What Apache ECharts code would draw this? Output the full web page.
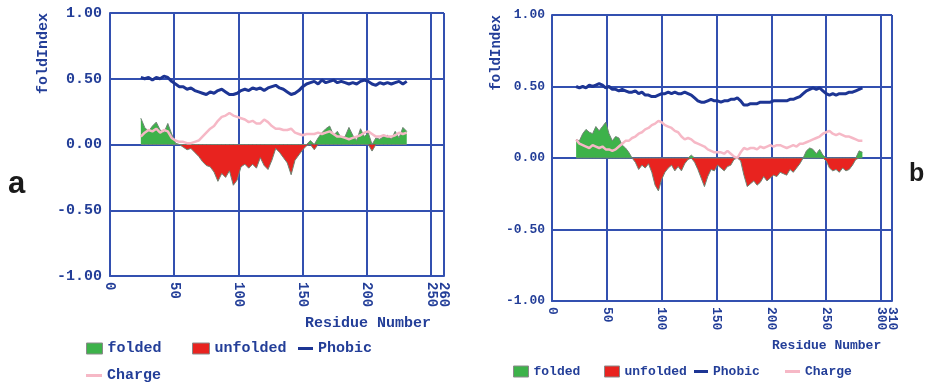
<!DOCTYPE html>
<html>
<head>
<meta charset="utf-8">
<style>
  html, body { margin: 0; padding: 0; background: #fff; }
  #chart { width: 927px; height: 388px; }
</style>
<script src="https://cdn.jsdelivr.net/npm/echarts@6/dist/echarts.min.js"></script>
</head>
<body>
<div id="chart"></div>
<script>
// panel a: residues 24..231, every 3rd residue
const A_START = 24;
const A_STEP = 3;
const A_MAX = 260;
const foldA = [
  0.20, 0.13, 0.10, 0.14, 0.17, 0.11, 0.09, 0.16, 0.08, 0.01,
  0.00, -0.02, -0.04, -0.03, -0.06, -0.09, -0.13, -0.16, -0.17, -0.21,
  -0.28, -0.22, -0.25, -0.20, -0.31, -0.27, -0.17, -0.15, -0.18, -0.15,
  -0.18, -0.10, -0.16, -0.19, -0.12, -0.03, -0.06, -0.10, -0.14, -0.23,
  -0.12, -0.08, -0.04, -0.01, 0.03, -0.04, 0.05, 0.09, 0.12, 0.14,
  0.07, 0.10, 0.05, 0.06, 0.13, 0.07, 0.03, 0.12, 0.06, 0.09,
  -0.05, 0.05, 0.04, 0.06, 0.07, 0.04, 0.10, 0.05, 0.13, 0.10
];
const phobicA = [
  0.51, 0.50, 0.51, 0.49, 0.51, 0.50, 0.52, 0.51, 0.48, 0.46,
  0.44, 0.44, 0.42, 0.43, 0.41, 0.40, 0.39, 0.38, 0.40, 0.39,
  0.41, 0.42, 0.40, 0.38, 0.38, 0.39, 0.41, 0.42, 0.41, 0.43,
  0.42, 0.43, 0.41, 0.43, 0.44, 0.45, 0.43, 0.42, 0.40, 0.38,
  0.39, 0.41, 0.44, 0.46, 0.47, 0.48, 0.46, 0.49, 0.47, 0.48,
  0.49, 0.47, 0.48, 0.47, 0.46, 0.47, 0.46, 0.48, 0.49, 0.48,
  0.46, 0.45, 0.47, 0.46, 0.47, 0.46, 0.47, 0.48, 0.46, 0.48
];
const chargeA = [
  0.06, 0.09, 0.11, 0.10, 0.12, 0.09, 0.11, 0.10, 0.05, 0.03,
  0.02, 0.02, 0.01, 0.01, 0.02, 0.03, 0.06, 0.09, 0.12, 0.14,
  0.18, 0.21, 0.22, 0.24, 0.22, 0.21, 0.20, 0.19, 0.17, 0.18,
  0.16, 0.16, 0.19, 0.17, 0.14, 0.12, 0.12, 0.11, 0.11, 0.12,
  0.09, 0.08, 0.07, 0.08, 0.08, 0.08, 0.09, 0.08, 0.09, 0.10,
  0.08, 0.06, 0.06, 0.05, 0.04, 0.05, 0.06, 0.07, 0.09, 0.10,
  0.08, 0.06, 0.06, 0.07, 0.06, 0.06, 0.07, 0.09, 0.08, 0.09
];

// panel b: residues 22..283, every 3rd residue
const B_START = 22;
const B_STEP = 3;
const B_MAX = 310;
const foldB = [
  0.13, 0.12, 0.17, 0.20, 0.18, 0.17, 0.22, 0.19, 0.22, 0.25,
  0.17, 0.12, 0.15, 0.14, 0.09, 0.07, 0.04, 0.00, -0.03, -0.08,
  -0.05, -0.07, -0.04, -0.10, -0.19, -0.23, -0.15, -0.10, -0.07, -0.05,
  -0.09, -0.06, -0.09, -0.04, -0.01, 0.02, -0.03, -0.08, -0.14, -0.20,
  -0.13, -0.08, -0.09, -0.05, -0.07, -0.09, -0.06, -0.05, -0.01, 0.00,
  -0.02, -0.12, -0.20, -0.18, -0.16, -0.19, -0.17, -0.13, -0.16, -0.14,
  -0.12, -0.13, -0.10, -0.11, -0.12, -0.08, -0.10, -0.07, -0.04, 0.00,
  0.05, 0.07, 0.06, 0.03, 0.06, 0.02, -0.02, -0.07, -0.09, -0.08,
  -0.10, -0.07, -0.09, -0.08, -0.05, -0.01, 0.05, 0.04
];
const phobicB = [
  0.50, 0.49, 0.50, 0.49, 0.51, 0.50, 0.51, 0.52, 0.51, 0.49,
  0.50, 0.48, 0.48, 0.47, 0.48, 0.47, 0.46, 0.46, 0.47, 0.45,
  0.46, 0.44, 0.44, 0.43, 0.43, 0.44, 0.45, 0.45, 0.46, 0.45,
  0.46, 0.45, 0.45, 0.46, 0.45, 0.44, 0.42, 0.40, 0.39, 0.39,
  0.40, 0.41, 0.40, 0.40, 0.39, 0.40, 0.40, 0.41, 0.41, 0.42,
  0.40, 0.37, 0.37, 0.38, 0.38, 0.38, 0.39, 0.39, 0.39, 0.39,
  0.40, 0.40, 0.40, 0.40, 0.40, 0.41, 0.41, 0.42, 0.43, 0.45,
  0.47, 0.48, 0.49, 0.48, 0.49, 0.47, 0.45, 0.44, 0.45, 0.44,
  0.45, 0.45, 0.45, 0.46, 0.46, 0.47, 0.48, 0.49
];
const chargeB = [
  0.13, 0.10, 0.09, 0.08, 0.07, 0.09, 0.08, 0.07, 0.08, 0.06,
  0.06, 0.05, 0.06, 0.08, 0.10, 0.12, 0.12, 0.14, 0.15, 0.17,
  0.18, 0.20, 0.21, 0.23, 0.24, 0.26, 0.25, 0.23, 0.22, 0.21,
  0.19, 0.18, 0.15, 0.13, 0.14, 0.13, 0.11, 0.10, 0.09, 0.08,
  0.06, 0.05, 0.04, 0.04, 0.04, 0.03, 0.05, 0.03, 0.01, 0.00,
  0.04, 0.07, 0.06, 0.07, 0.07, 0.06, 0.08, 0.07, 0.08, 0.09,
  0.08, 0.09, 0.09, 0.08, 0.07, 0.08, 0.09, 0.08, 0.10, 0.10,
  0.11, 0.12, 0.13, 0.14, 0.15, 0.17, 0.18, 0.19, 0.17, 0.16,
  0.17, 0.16, 0.15, 0.15, 0.14, 0.13, 0.12, 0.12
];

const yTicks = [-1, -0.5, 0, 0.5, 1];

const MONO = '"Liberation Mono", "DejaVu Sans Mono", monospace';
const TEXT = '#233e98';
const GRIDC = '#3350b0';
const GREEN = '#3db24a';
const RED = '#e8231f';
const NAVY = '#1d3594';
const PINK = '#f6b8c6';

function pairs(start, step, vals, fn) {
  return vals.map((v, i) => [start + i * step, fn ? fn(v) : v]);
}

function xAxisOf(grid, max, size) {
  return {
    gridIndex: grid, type: 'value', position: 'bottom', min: 0, max: max, interval: 50,
    axisLine: { show: true, onZero: false, lineStyle: { color: GRIDC, width: 2 } },
    axisTick: { show: false },
    splitLine: { show: true, lineStyle: { color: GRIDC, width: 2 } },
    axisLabel: { rotate: -90, margin: 6, color: TEXT, fontFamily: MONO, fontWeight: 'bold', fontSize: size,
      showMinLabel: true, showMaxLabel: false }
  };
}

// second axis on the same grid that carries only the end label (it sits too close to the last tick)
function xEndAxisOf(grid, max, size) {
  return {
    gridIndex: grid, type: 'value', position: 'bottom', min: 0, max: max, interval: 50,
    axisLine: { show: false, onZero: false }, axisTick: { show: false }, splitLine: { show: false },
    axisLabel: { rotate: -90, margin: 6, color: TEXT, fontFamily: MONO, fontWeight: 'bold', fontSize: size,
      showMaxLabel: true, formatter: v => (v === max ? String(v) : '') }
  };
}

function yAxisOf(grid, size, margin) {
  return {
    gridIndex: grid, type: 'value', min: yTicks[0], max: yTicks[yTicks.length - 1], interval: 0.5,
    axisLine: { show: true, lineStyle: { color: GRIDC, width: 2 } },
    axisTick: { show: false },
    splitLine: { show: true, lineStyle: { color: GRIDC, width: 2 } },
    axisLabel: { margin: margin, color: TEXT, fontFamily: MONO, fontWeight: 'bold', fontSize: size,
      formatter: v => v.toFixed(2) }
  };
}

function seriesOf(idx, start, step, fold, phobic, charge) {
  const area = (name, color, fn) => ({
    name, type: 'line', xAxisIndex: idx, yAxisIndex: idx,
    data: pairs(start, step, fold, fn), symbol: 'none', color,
    lineStyle: { width: 1, color: '#6f8474' },
    areaStyle: { color, opacity: 1, origin: 0 }
  });
  return [
    area('folded', GREEN, v => Math.max(v, 0)),
    area('unfolded', RED, v => Math.min(v, 0)),
    { name: 'Charge', type: 'line', xAxisIndex: idx, yAxisIndex: idx, data: pairs(start, step, charge),
      symbol: 'none', color: PINK, lineStyle: { width: 2.5, color: PINK } },
    { name: 'Phobic', type: 'line', xAxisIndex: idx, yAxisIndex: idx, data: pairs(start, step, phobic),
      symbol: 'none', color: NAVY, lineStyle: { width: 3, color: NAVY } }
  ];
}

function legendItem(name, left, top, size, color, isBox, w) {
  return {
    data: [name], left, top, padding: 0, selectedMode: false,
    icon: 'rect', itemWidth: w, itemHeight: isBox ? 11 : 3,
    itemStyle: isBox ? { color, borderColor: '#8a8a8a', borderWidth: 1 } : { color, borderWidth: 0 },
    textStyle: { color: TEXT, fontFamily: MONO, fontWeight: 'bold', fontSize: size }
  };
}

function label(text, x, y, size, opts) {
  return Object.assign({ type: 'text', x, y, style: {
    text, fill: TEXT, font: 'bold ' + size + 'px ' + MONO, align: 'left', verticalAlign: 'middle'
  } }, opts || {});
}

const chart = echarts.init(document.getElementById('chart'));
chart.setOption({
  animation: false,
  backgroundColor: '#fff',
  grid: [
    { left: 110, top: 13, width: 334, height: 263 },
    { left: 552, top: 15, width: 340, height: 286 }
  ],
  xAxis: [xAxisOf(0, A_MAX, 14), xAxisOf(1, B_MAX, 13), xEndAxisOf(0, A_MAX, 14), xEndAxisOf(1, B_MAX, 13)],
  yAxis: [yAxisOf(0, 15, 8), yAxisOf(1, 13, 7)],
  legend: [
    legendItem('folded', 86, 341, 15, GREEN, true, 16),
    legendItem('unfolded', 192, 341, 15, RED, true, 17),
    legendItem('Phobic', 298, 341, 15, NAVY, false, 15),
    legendItem('Charge', 86, 368, 15, PINK, false, 16),
    legendItem('folded', 513, 365, 13, GREEN, true, 15),
    legendItem('unfolded', 604, 365, 13, RED, true, 15),
    legendItem('Phobic', 694, 365, 13, NAVY, false, 14),
    legendItem('Charge', 785, 365, 13, PINK, false, 15)
  ],
  graphic: [
    label('foldIndex', 43, 13, 15, { rotation: Math.PI / 2, style: {
      text: 'foldIndex', fill: TEXT, font: 'bold 15px ' + MONO, align: 'right', verticalAlign: 'middle' } }),
    label('foldIndex', 496, 15, 14, { rotation: Math.PI / 2, style: {
      text: 'foldIndex', fill: TEXT, font: 'bold 14px ' + MONO, align: 'right', verticalAlign: 'middle' } }),
    label('Residue Number', 305, 323, 15),
    label('Residue Number', 772, 346, 13),
    { type: 'text', x: 8, y: 184, style: { text: 'a', fill: '#1a1a1a',
      font: 'bold 31px "Liberation Sans", Arial, sans-serif', verticalAlign: 'middle' } },
    { type: 'text', x: 909, y: 174, style: { text: 'b', fill: '#1a1a1a',
      font: 'bold 25px "Liberation Sans", Arial, sans-serif', verticalAlign: 'middle' } }
  ],
  series: [
    ...seriesOf(0, A_START, A_STEP, foldA, phobicA, chargeA),
    ...seriesOf(1, B_START, B_STEP, foldB, phobicB, chargeB)
  ]
});
</script>
</body>
</html>
